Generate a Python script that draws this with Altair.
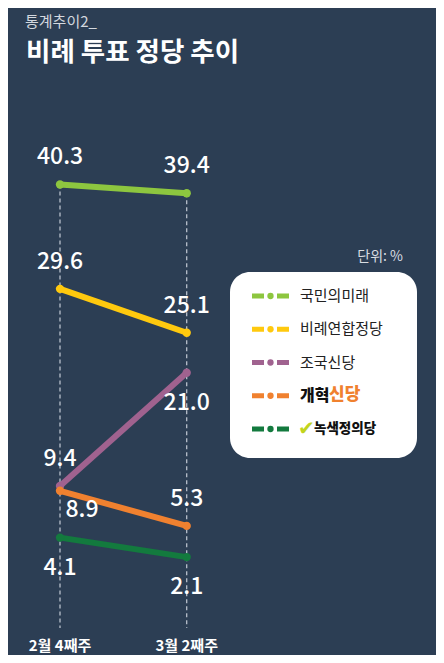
import altair as alt
import pandas as pd

# ---- data ----
weeks = ["2월 4째주", "3월 2째주"]
parties = ["국민의미래", "비례연합정당", "조국신당", "개혁신당", "녹색정의당"]
feb4 = [40.3, 29.6, 9.4, 8.9, 4.1]
mar2 = [39.4, 25.1, 21.0, 5.3, 2.1]
colors = ["#8DC63F", "#FFC90E", "#A0628F", "#F0812F", "#137A3E"]

# label placement (which labels go below their point; one special)
below = [("조국신당", "3월 2째주"), ("녹색정의당", "2월 4째주"), ("녹색정의당", "3월 2째주")]
special = [("개혁신당", "2월 4째주")]

rows = []
for p, a, b in zip(parties, feb4, mar2):
    for w, v in zip(weeks, [a, b]):
        pos = "special" if (p, w) in special else ("below" if (p, w) in below else "above")
        rows.append({"party": p, "week": w, "value": v, "pos": pos})
df = pd.DataFrame(rows)
legend_df = pd.DataFrame({"party": parties})
one = pd.DataFrame({"k": [0]})

FONT = "Noto Sans CJK KR"
BG = "#2C3E54"

yscale = alt.Scale(domain=[0, 42], range=[569.6, 159.9], zero=False, nice=False)
xs = alt.X("week:N", scale=alt.Scale(type="point", domain=weeks, range=[52, 178.7], padding=0), axis=None)
ys = alt.Y("value:Q", scale=yscale, axis=None)
col = alt.Color("party:N", scale=alt.Scale(domain=parties, range=colors), legend=None)
ly = alt.Y("party:N", scale=alt.Scale(type="point", domain=parties, range=[288, 421], padding=0), axis=None)

base = alt.Chart(df)

rules = base.mark_rule(color="#B8C0CC", strokeWidth=1.3, strokeDash=[4, 3]).encode(
    x=xs, y=alt.Y("max(value):Q", scale=yscale, axis=None), y2=alt.value(620))

lines = base.mark_line(strokeWidth=6).encode(x=xs, y=ys, color=col, detail="party:N")
points = base.mark_circle(size=70, opacity=1).encode(x=xs, y=ys, color=col)

def labels(pos, dx, dy):
    return base.transform_filter(alt.datum.pos == pos).mark_text(
        font=FONT, fontSize=23, fontWeight=500, color="white", dx=dx, dy=dy,
        align="center", baseline="middle").encode(
        x=xs, y=ys, text=alt.Text("value:Q", format=".1f"))

lab_above = labels("above", 0, -27)
lab_below = labels("below", 0, 30)
lab_special = labels("special", 22, 19)

xlab = alt.Chart(pd.DataFrame({"week": weeks})).mark_text(
    font=FONT, fontSize=15, fontWeight="bold", color="white", align="center", baseline="middle"
).encode(x=xs, y=alt.value(638), text="week:N")

sub = alt.Chart(one).mark_text(font=FONT, fontSize=15, color="#D3D8DF", align="left", baseline="middle",
                               text="통계추이2_").encode(x=alt.value(17), y=alt.value(14))
title = alt.Chart(one).mark_text(font=FONT, fontSize=26.5, fontWeight="bold", color="white", align="left",
                                 baseline="middle", text="비례 투표 정당 추이").encode(x=alt.value(18), y=alt.value(45))
unit = alt.Chart(one).mark_text(font=FONT, fontSize=14, color="#D8DCE2", align="right", baseline="middle",
                                text="단위: %").encode(x=alt.value(395), y=alt.value(249))

box = alt.Chart(one).mark_rect(color="white", cornerRadius=20).encode(
    x=alt.value(222), x2=alt.value(409), y=alt.value(264), y2=alt.value(450))

lbase = alt.Chart(legend_df)
lsym = lbase.mark_rule(strokeWidth=5, strokeDash=[12, 13]).encode(
    x=alt.value(244), x2=alt.value(281), y=ly, color=col)
ldot = lbase.mark_circle(size=40, opacity=1).encode(x=alt.value(262.5), y=ly, color=col)
ltext = lbase.transform_filter(alt.FieldOneOfPredicate(field="party", oneOf=parties[:3])).mark_text(
    font=FONT, fontSize=15, color="#222222", align="left", baseline="middle").encode(
    x=alt.value(292), y=ly, text="party:N")

gaehyuk = lbase.transform_filter(alt.datum.party == "개혁신당").transform_calculate(
    a="substring(datum.party, 0, 2)", b="substring(datum.party, 2)")
g1 = gaehyuk.mark_text(font=FONT, fontSize=16, fontWeight=900, color="#111111", align="left",
                       baseline="middle").encode(x=alt.value(292), y=ly, text="a:N")
g2 = gaehyuk.mark_text(font=FONT, fontSize=17, fontWeight=900, color="#F0812F", align="left",
                       baseline="middle", dy=-1).encode(x=alt.value(321), y=ly, text="b:N")

green = lbase.transform_filter(alt.datum.party == "녹색정의당")
n1 = green.mark_text(font="DejaVu Sans", fontSize=20, fontWeight="bold", color="#C2D41E", align="left",
                     baseline="middle", text="✔").encode(x=alt.value(290), y=ly)
n2 = green.mark_text(font=FONT, fontSize=13.5, fontWeight=900, color="#111111", align="left",
                     baseline="middle").encode(x=alt.value(306), y=ly, text="party:N")

chart = alt.layer(
    rules, lines, points, lab_above, lab_below, lab_special, xlab,
    sub, title, unit, box, lsym, ldot, ltext, g1, g2, n1, n2
).resolve_scale(y="independent").properties(
    width=428, height=647, background=BG, padding=0,
    autosize=alt.AutoSizeParams(type="none")
).configure_view(stroke=None)

chart.save("out.html", embed_options={"renderer": "svg", "actions": False})
